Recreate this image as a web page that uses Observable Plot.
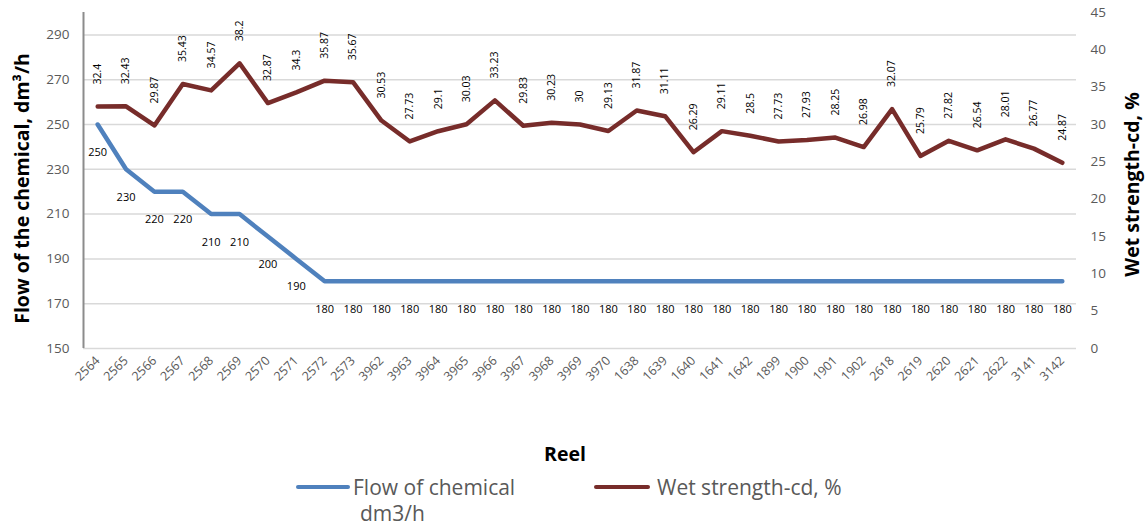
<!DOCTYPE html>
<html>
<head>
<meta charset="utf-8">
<script src="https://cdn.jsdelivr.net/npm/d3@7"></script>
<script src="https://cdn.jsdelivr.net/npm/@observablehq/plot@0.6"></script>
<style>
  html, body { margin: 0; padding: 0; background: #fff; }
  #wrap { position: relative; width: 1147px; height: 528px; font-family: "Open Sans", sans-serif; }
  .leg-line { position: absolute; height: 4px; border-radius: 2px; }
  .leg-text { position: absolute; font-size: 21px; color: #595959; line-height: 26px; white-space: nowrap; }
</style>
</head>
<body>
<div id="wrap">
  <div id="chart"></div>
  <div class="leg-line" style="left:296px; top:485px; width:54px; background:#4f81bd;"></div>
  <div class="leg-text" style="left:353px; top:474px;">Flow of chemical<br><span style="padding-left:7px">dm3/h</span></div>
  <div class="leg-line" style="left:594px; top:485px; width:56px; background:#772c2a;"></div>
  <div class="leg-text" style="left:657px; top:474px;">Wet strength-cd, %</div>
</div>
<script>
const reels = ["2564","2565","2566","2567","2568","2569","2570","2571","2572","2573",
  "3962","3963","3964","3965","3966","3967","3968","3969","3970",
  "1638","1639","1640","1641","1642","1899","1900","1901","1902",
  "2618","2619","2620","2621","2622","3141","3142"];
const flow = [250,230,220,220,210,210,200,190,180,180,
  180,180,180,180,180,180,180,180,180,
  180,180,180,180,180,180,180,180,180,
  180,180,180,180,180,180,180];
const wet = [32.4,32.43,29.87,35.43,34.57,38.2,32.87,34.3,35.87,35.67,
  30.53,27.73,29.1,30.03,33.23,29.83,30.23,30,29.13,
  31.87,31.11,26.29,29.11,28.5,27.73,27.93,28.25,26.98,
  32.07,25.79,27.82,26.54,28.01,26.77,24.87];
const leftTicks = [150,170,190,210,230,250,270,290];
const rightTicks = [0,5,10,15,20,25,30,35,40,45];

const leftMin = 150, leftMax = 300, rightMax = 45;
const toLeft = v => leftMin + v * (leftMax - leftMin) / rightMax;
const toRight = v => Math.round((v - leftMin) * rightMax / (leftMax - leftMin));

const rows = reels.map((r, i) => ({reel: r, flow: flow[i], wet: wet[i], wetL: toLeft(wet[i])}));

const W = 1147, H = 445, mL = 83, mR = 71, mT = 12, mB = H - 348;
const halfStep = (W - mL - mR) / reels.length / 2;

const chart = Plot.plot({
  width: W, height: H,
  marginLeft: mL, marginRight: mR, marginTop: mT, marginBottom: mB,
  style: {fontFamily: "'Open Sans', sans-serif", background: "#fff", overflow: "visible"},
  x: {type: "point", domain: reels, padding: 0.5, round: false},
  y: {domain: [leftMin, leftMax]},
  marks: [
    Plot.ruleY(leftTicks, {stroke: "#d9d9d9", strokeWidth: 1.5}),
    Plot.ruleX([reels[0]], {y1: leftMin, y2: leftMax, dx: -halfStep, stroke: "#8c8c8c", strokeWidth: 2}),
    Plot.axisY({anchor: "left", ticks: leftTicks, tickSize: 0, tickPadding: 14, fontSize: 13.5, fill: "#595959", label: null}),
    Plot.axisY({anchor: "right", ticks: rightTicks.map(toLeft), tickFormat: v => String(toRight(v)), tickSize: 0, tickPadding: 14, textAnchor: "start", fontSize: 13.5, fill: "#595959", label: null}),
    Plot.axisX({tickRotate: -45, tickSize: 0, tickPadding: 10, fontSize: 12.5, fill: "#595959", label: null}),
    Plot.line(rows, {x: "reel", y: "flow", stroke: "#4f81bd", strokeWidth: 4.5, strokeLinejoin: "round", strokeLinecap: "round"}),
    Plot.line(rows, {x: "reel", y: "wetL", stroke: "#772c2a", strokeWidth: 4.5, strokeLinejoin: "round", strokeLinecap: "round"}),
    Plot.text(rows, {x: "reel", y: "flow", text: d => String(d.flow), dy: 28, fontSize: 11, fill: "#000"}),
    Plot.text(rows, {x: "reel", y: "wetL", text: d => String(d.wet), rotate: -90, textAnchor: "start", dy: -22, fontSize: 10.5, fill: "#000"}),
    Plot.text(["Flow of the chemical, dm³/h"], {frameAnchor: "left", textAnchor: "middle", dx: -61, dy: 8, rotate: -90, fontSize: 19.5, fontWeight: "bold", fill: "#000"}),
    Plot.text(["Wet strength-cd, %"], {frameAnchor: "right", textAnchor: "middle", dx: 56, dy: 4, rotate: -90, fontSize: 19.5, fontWeight: "bold", fill: "#000"}),
    Plot.text(["Reel"], {frameAnchor: "bottom", dx: -15, dy: 112, fontSize: 19.5, fontWeight: "bold", fill: "#000"})
  ]
});
document.getElementById("chart").appendChild(chart);
</script>
</body>
</html>
